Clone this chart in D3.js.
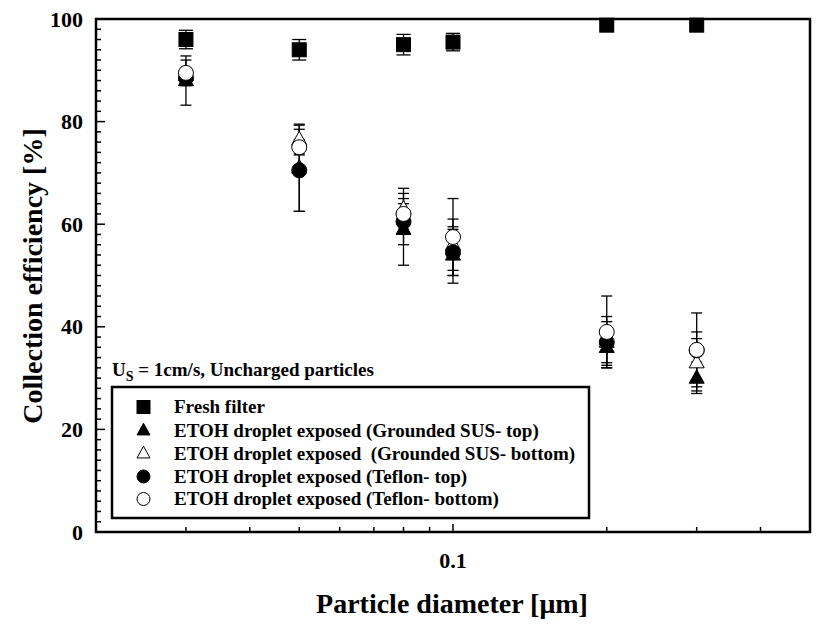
<!DOCTYPE html>
<html><head><meta charset="utf-8">
<script src="https://d3js.org/d3.v7.min.js"></script>
<style>body{margin:0;background:#fff}svg{display:block}text{font-family:"Liberation Serif","Times New Roman",serif;font-weight:bold;fill:#000}</style>
</head><body>
<script>
const diameters = [0.03, 0.05, 0.08, 0.1, 0.2, 0.3];
const fresh = [96, 94, 95, 95.5, 98.8, 98.8];
const freshErr = [1.8, 2, 2, 1.7, 0.5, 0.5];
const susTop = [88, 71, 59, 54, 36, 30];
const susTopErr = [4.8, 8.5, 7, 5.5, 3.5, 2.5];
const susBottom = [89, 76.5, 63, 56, 37, 33];
const susBottomErr = [1.5, 2.8, 4, 5, 4, 6];
const teflonTop = [88.5, 70.5, 60.5, 54.5, 37, 35.4];
const teflonTopErr = [1, 8, 4.5, 4.5, 5, 2.3];
const teflonBottom = [89.5, 75, 62, 57.5, 39, 35.5];
const teflonBottomErr = [2.5, 1.5, 2, 7.5, 7, 7.2];
const seriesNames = ["Fresh filter", "ETOH droplet exposed (Grounded SUS- top)", "ETOH droplet exposed  (Grounded SUS- bottom)", "ETOH droplet exposed (Teflon- top)", "ETOH droplet exposed (Teflon- bottom)"];
const xTicks = [0.03, 0.04, 0.05, 0.06, 0.07, 0.08, 0.09, 0.1, 0.2, 0.3, 0.4];
const xTickLabels = ["0.1"];
const yMajorTicks = [0, 20, 40, 60, 80, 100];
const yMinorTicks = d3.range(0, 101, 2);

const series = [
  {name: seriesNames[0], v: fresh, e: freshErr, shape: "square", fill: "#000", cap: 14},
  {name: seriesNames[1], v: susTop, e: susTopErr, shape: "triangle", fill: "#000", cap: 11},
  {name: seriesNames[2], v: susBottom, e: susBottomErr, shape: "triangle", fill: "#fff", cap: 11},
  {name: seriesNames[3], v: teflonTop, e: teflonTopErr, shape: "circle", fill: "#000", cap: 11},
  {name: seriesNames[4], v: teflonBottom, e: teflonBottomErr, shape: "circle", fill: "#fff", cap: 11}
];

const W = 822, H = 625;
const L = 96, R = 810, T = 19, B = 532;
const svg = d3.select("body").append("svg").attr("width", W).attr("height", H);
const x = d3.scaleLog().domain([0.02, 0.5]).range([L, R]);
const y = d3.scaleLinear().domain([0, 100]).range([B, T]);

// y ticks
const g = svg.append("g");
g.selectAll(".ymin").data(yMinorTicks).join("line")
  .attr("x1", L).attr("x2", d => L + (d % 20 === 0 ? 9 : 5))
  .attr("y1", d => y(d)).attr("y2", d => y(d))
  .attr("stroke", "#000").attr("stroke-width", 1.5);
g.selectAll(".ylab").data(yMajorTicks).join("text")
  .attr("x", 83).attr("y", d => y(d) + 7.5)
  .attr("text-anchor", "end").attr("font-size", 22).text(d => d);

// x ticks
g.selectAll(".xt").data(xTicks).join("line")
  .attr("x1", d => x(d)).attr("x2", d => x(d))
  .attr("y1", B).attr("y2", d => B - (d === 0.1 ? 8 : 5))
  .attr("stroke", "#000").attr("stroke-width", 1.5);
g.selectAll(".xlab").data(xTickLabels).join("text")
  .attr("x", d => x(+d)).attr("y", 568)
  .attr("text-anchor", "middle").attr("font-size", 22).text(d => d);

// frame
svg.append("rect").attr("x", L).attr("y", T).attr("width", R - L).attr("height", B - T)
  .attr("fill", "none").attr("stroke", "#000").attr("stroke-width", 2.5);

// axis titles
svg.append("text").attr("x", 452).attr("y", 613).attr("text-anchor", "middle")
  .attr("font-size", 28).text("Particle diameter [\u03bcm]");
svg.append("text").attr("transform", "translate(42,276) rotate(-90)").attr("text-anchor", "middle")
  .attr("font-size", 28).text("Collection efficiency [%]");

function marker(sel, shape, s) {
  if (shape === "square") return sel.append("rect").attr("x", -s/2).attr("y", -s/2).attr("width", s).attr("height", s);
  if (shape === "circle") return sel.append("circle").attr("r", s/2);
  const h = s * 0.9;
  return sel.append("path").attr("d", `M0,${-h*0.62}L${s/2},${h*0.38}L${-s/2},${h*0.38}Z`);
}

// error bars and markers
series.forEach(sr => {
  const pts = diameters.map((d, i) => ({d, v: sr.v[i], e: sr.e[i]}));
  const eg = svg.append("g").attr("stroke", "#000").attr("stroke-width", 1.3);
  pts.forEach(p => {
    const cx = x(p.d);
    eg.append("line").attr("x1", cx).attr("x2", cx).attr("y1", y(p.v + p.e)).attr("y2", y(p.v - p.e));
    [p.v + p.e, p.v - p.e].forEach(val => {
      eg.append("line").attr("x1", cx - sr.cap/2).attr("x2", cx + sr.cap/2).attr("y1", y(val)).attr("y2", y(val));
    });
  });
});
series.forEach(sr => {
  diameters.forEach((d, i) => {
    const mg = svg.append("g").attr("transform", `translate(${x(d)},${y(sr.v[i])})`);
    marker(mg, sr.shape, sr.shape === "square" ? 14 : 15)
      .attr("fill", sr.fill).attr("stroke", "#000").attr("stroke-width", 1);
  });
});

// annotation
const ann = svg.append("text").attr("x", 112).attr("y", 376).attr("font-size", 19);
ann.append("tspan").text("U");
ann.append("tspan").attr("dy", 5).attr("font-size", 14).text("S");
ann.append("tspan").attr("dy", -5).text(" = 1cm/s, Uncharged particles");

// legend
svg.append("rect").attr("x", 112).attr("y", 387).attr("width", 477).attr("height", 131)
  .attr("fill", "#fff").attr("stroke", "#000").attr("stroke-width", 2.5);
const rowY = [413, 436.5, 459.5, 482.5, 505];
series.forEach((sr, i) => {
  const lg = svg.append("g").attr("transform", `translate(143.5,${rowY[i] - 6})`);
  marker(lg, sr.shape, 13).attr("fill", sr.fill).attr("stroke", "#000").attr("stroke-width", 1);
  svg.append("text").attr("x", 174).attr("y", rowY[i]).attr("font-size", 19).attr("xml:space", "preserve")
    .style("white-space", "pre").text(sr.name);
});
</script>
</body></html>
